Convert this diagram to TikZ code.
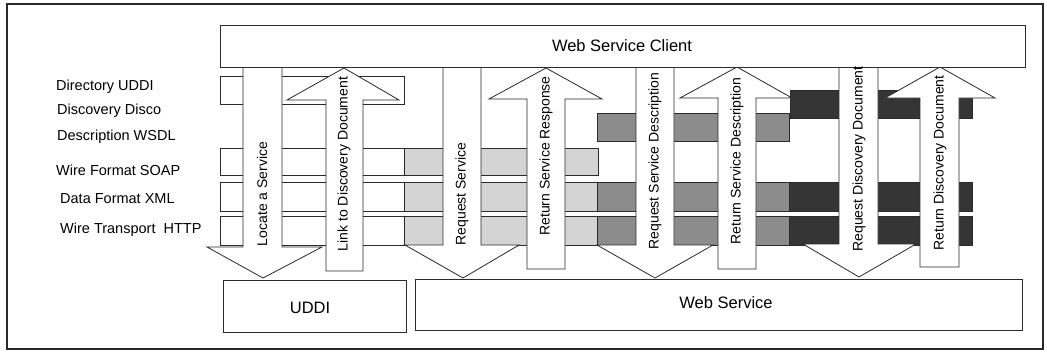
\documentclass[tikz,border=0pt]{standalone}
\usepackage{fontspec}
\setmainfont{Liberation Sans}
\definecolor{lightg}{HTML}{D4D4D4}
\definecolor{midg}{HTML}{8C8C8C}
\definecolor{darkg}{HTML}{353535}
\definecolor{ink}{HTML}{2A2A2A}
\begin{document}
\begin{tikzpicture}[x=1pt,y=-1pt,
  ln/.style={draw=ink,line width=0.8pt},
  whitebar/.style={ln,fill=white},
  lightbar/.style={ln,fill=lightg},
  midbar/.style={ln,fill=midg},
  darkbar/.style={ln,fill=darkg},
  blockarrow/.style={ln,fill=white,line join=miter},
  lbl/.style={font=\fontsize{14.5}{16}\selectfont,anchor=west,inner sep=0pt},
  arlbl/.style={font=\fontsize{14}{16}\selectfont,rotate=90,inner sep=0pt},
  boxlbl/.style={font=\fontsize{16.5}{18}\selectfont,inner sep=0pt}]
\useasboundingbox (0,0) rectangle (1047,351);
\fill[white] (0,0) rectangle (1047,351);
\draw[draw=ink,line width=1.6pt] (7,4) rectangle (1043,349);

% layer bars
\draw[whitebar] (220,76) rectangle (404,104);
\draw[darkbar] (790,90) rectangle (972,118);
\draw[midbar] (597,113) rectangle (789,141);
\draw[whitebar] (220,148) rectangle (404,175);
\draw[lightbar] (404,148) rectangle (598,175);
\foreach \ya/\yb in {182/211,216/245}{
  \draw[whitebar] (220,\ya) rectangle (404,\yb);
  \draw[lightbar] (404,\ya) rectangle (597,\yb);
  \draw[midbar] (597,\ya) rectangle (789,\yb);
  \draw[darkbar] (789,\ya) rectangle (972,\yb);
}

% down arrows: shaft l/r, head base y, head l/r, tip x/y
\foreach \sl/\sr/\hb/\hl/\hr/\tx/\ty in {243/282/247/207/322/263/278,
    443/481/245/405/519/463/278,
    636/674/245/597/713/655/278,
    839/878/244/803/916/859/277}{
  \draw[blockarrow] (\sl,66) -- (\sl,\hb) -- (\hl,\hb) -- (\tx,\ty) -- (\hr,\hb) -- (\sr,\hb) -- (\sr,66);
}
% up arrows
\foreach \sl/\sr/\bt/\hb/\hl/\hr/\tx/\ty in {326/363/271/100/287/399/344/68,
    527/565/269/99/489/602/546/68,
    718/756/269/98/680/792/737/67,
    920/959/267/98/885/995/940/67}{
  \draw[blockarrow] (\sl,\bt) -- (\sl,\hb) -- (\hl,\hb) -- (\tx,\ty) -- (\hr,\hb) -- (\sr,\hb) -- (\sr,\bt) -- cycle;
}

% boxes
\draw[ln,fill=white] (220,25) rectangle (1025,67);
\node[boxlbl] (client) at (622,46) {Web Service Client};
\draw[ln] (223,280) rectangle (406,332);
\node[boxlbl] (uddi) at (310,308) {UDDI};
\draw[ln] (415,279) rectangle (1022,330);
\node[boxlbl] (ws) at (726,303) {Web Service};

% layer labels
\node[lbl] (l1) at (56,87) {Directory UDDI};
\node[lbl] (l2) at (57,111) {Discovery Disco};
\node[lbl] (l3) at (57,137) {Description WSDL};
\node[lbl] (l4) at (56,170) {Wire Format SOAP};
\node[lbl] (l5) at (60,199) {Data Format XML};
\node[lbl] (l6) at (60,230) {Wire Transport\ \ HTTP};

% arrow labels
\node[arlbl] (a1) at (262,194) {Locate a Service};
\node[arlbl] (a2) at (344,164) {Link to Discovery Document};
\node[arlbl] (a3) at (462,194) {Request Service};
\node[arlbl] (a4) at (546,156) {Return Service Response};
\node[arlbl] (a5) at (655,161) {Request Service Description};
\node[arlbl] (a6) at (737,161) {Return Service Description};
\node[arlbl] (a7) at (859,159) {Request Discovery Document};
\node[arlbl] (a8) at (940,163) {Return Discovery Document};
\end{tikzpicture}
\end{document}
